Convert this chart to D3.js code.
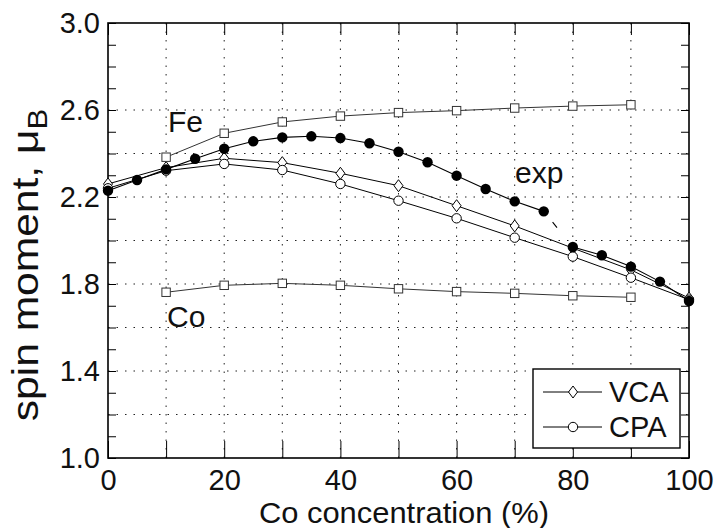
<!doctype html>
<html lang="en">
<head>
  <meta charset="utf-8">
  <title>Spin moment vs Co concentration</title>
  <style>
    body { margin: 0; background: #fff; }
    svg { display: block; font-family: "Liberation Sans", Arial, sans-serif; }
    .grid line { stroke: #222; stroke-width: 1; stroke-dasharray: 1.5,7; }
    .axis path { display: none; }
    .axis line { stroke: #000; stroke-width: 1; }
    .axis text { font-size: 29px; fill: #111; }
  </style>
</head>
<body>
  <div id="chart"></div>
  <script src="https://cdn.jsdelivr.net/npm/d3@7"></script>
  <script>
  // values
  var concCalc = [10, 20, 30, 40, 50, 60, 70, 80, 90];
  var fe = [2.383, 2.493, 2.545, 2.572, 2.588, 2.597, 2.609, 2.618, 2.624];
  var co = [1.762, 1.794, 1.803, 1.794, 1.778, 1.765, 1.757, 1.746, 1.739];

  var concTheory = [0, 10, 20, 30, 40, 50, 60, 70, 80, 90, 100];
  var vca = [2.26, 2.335, 2.378, 2.358, 2.309, 2.252, 2.160, 2.067, 1.965, 1.865, 1.735];
  var cpa = [2.24, 2.321, 2.352, 2.324, 2.260, 2.183, 2.102, 2.013, 1.926, 1.829, 1.728];

  var concExp = [0, 5, 10, 15, 20, 25, 30, 35, 40, 45, 50, 55, 60, 65, 70, 75, 80, 85, 90, 95, 100];
  var expVals = [2.229, 2.278, 2.327, 2.376, 2.422, 2.456, 2.474, 2.479, 2.471, 2.447, 2.408,
                 2.360, 2.298, 2.237, 2.180, 2.134, 1.970, 1.932, 1.880, 1.811, 1.722];

  var xTicks = [0, 20, 40, 60, 80, 100];
  var yTicks = [1.0, 1.4, 1.8, 2.2, 2.6, 3.0];

  (function(){
    var width = 717, height = 528;
    // plot box (note: "top" is reserved on window, so use mTop)
    var mLeft = 108, mRight = 689, mTop = 23, mBottom = 458;

    var x = d3.scaleLinear().domain([0, 100]).range([mLeft, mRight]);
    var y = d3.scaleLinear().domain([1, 3]).range([mBottom, mTop]);

    var svg = d3.select("#chart").append("svg")
        .attr("width", width)
        .attr("height", height);

    // dotted grid
    var grid = svg.append("g").attr("class", "grid");
    grid.selectAll(".gx").data(d3.range(10, 100, 10)).enter().append("line")
        .attr("x1", d => x(d)).attr("x2", d => x(d))
        .attr("y1", mTop).attr("y2", mBottom);
    grid.selectAll(".gy").data(d3.range(1, 9).map(i => 1 + i * 0.2)).enter().append("line")
        .attr("y1", d => y(d)).attr("y2", d => y(d))
        .attr("x1", mLeft).attr("x2", mRight);

    // ticks pointing inwards, labels only on some of them
    var xMinor = d3.range(0, 101, 10);
    var yMinor = d3.range(0, 21).map(i => 1 + i * 0.1);
    var fmtX = d => xTicks.indexOf(d) >= 0 ? d : "";
    var fmtY = d => yTicks.some(t => Math.abs(t - d) < 1e-6) ? d.toFixed(1) : "";

    svg.append("g").attr("class", "axis")
        .attr("transform", "translate(0," + mBottom + ")")
        .call(d3.axisBottom(x).tickValues(xMinor).tickSizeInner(-17).tickSizeOuter(0)
          .tickPadding(11).tickFormat(fmtX));
    svg.append("g").attr("class", "axis")
        .attr("transform", "translate(0," + mTop + ")")
        .call(d3.axisTop(x).tickValues(xMinor).tickSizeInner(-12).tickSizeOuter(0).tickFormat(""));
    svg.append("g").attr("class", "axis")
        .attr("transform", "translate(" + mLeft + ",0)")
        .call(d3.axisLeft(y).tickValues(yMinor).tickSizeInner(-8).tickSizeOuter(0)
          .tickPadding(8).tickFormat(fmtY));
    svg.append("g").attr("class", "axis")
        .attr("transform", "translate(" + mRight + ",0)")
        .call(d3.axisRight(y).tickValues(yMinor).tickSizeInner(-8).tickSizeOuter(0).tickFormat(""));

    // frame
    svg.append("rect")
        .attr("x", mLeft).attr("y", mTop)
        .attr("width", mRight - mLeft).attr("height", mBottom - mTop)
        .attr("fill", "none").attr("stroke", "#000").attr("stroke-width", 1.6);

    var line = d3.line().x(d => x(d[0])).y(d => y(d[1]));
    var zip = (a, b) => a.map((v, i) => [v, b[i]]);

    var feData = zip(concCalc, fe), coData = zip(concCalc, co);
    var vcaData = zip(concTheory, vca), cpaData = zip(concTheory, cpa);
    var expData = zip(concExp, expVals);

    // lines
    [feData, coData].forEach(function(dd) {
      svg.append("path").attr("d", line(dd))
        .attr("fill", "none").attr("stroke", "#333").attr("stroke-width", 1);
    });
    [vcaData, cpaData].forEach(function(dd) {
      svg.append("path").attr("d", line(dd))
        .attr("fill", "none").attr("stroke", "#000").attr("stroke-width", 1);
    });
    // experiment: solid, with a broken piece between 75 and 80
    svg.append("path").attr("d", line(expData.slice(0, 16)))
        .attr("fill", "none").attr("stroke", "#000").attr("stroke-width", 1.1);
    svg.append("path").attr("d", line(expData.slice(15, 17)))
        .attr("fill", "none").attr("stroke", "#000").attr("stroke-width", 1.1)
        .attr("stroke-dasharray", "0,14,7,40");
    svg.append("path").attr("d", line(expData.slice(16)))
        .attr("fill", "none").attr("stroke", "#000").attr("stroke-width", 1.1);

    // markers
    var diamond = "M0,-6L4.5,0L0,6L-4.5,0Z";
    svg.append("g").selectAll("path").data(vcaData).enter().append("path")
        .attr("d", diamond)
        .attr("transform", d => "translate(" + x(d[0]) + "," + y(d[1]) + ")")
        .attr("fill", "#fff").attr("stroke", "#000").attr("stroke-width", 1);
    svg.append("g").selectAll("circle").data(cpaData).enter().append("circle")
        .attr("cx", d => x(d[0])).attr("cy", d => y(d[1])).attr("r", 4.7)
        .attr("fill", "#fff").attr("stroke", "#000").attr("stroke-width", 1);
    [feData, coData].forEach(function(dd) {
      svg.append("g").selectAll("rect").data(dd).enter().append("rect")
        .attr("x", d => x(d[0]) - 4.2).attr("y", d => y(d[1]) - 4.2)
        .attr("width", 8.4).attr("height", 8.4)
        .attr("fill", "#fff").attr("stroke", "#333").attr("stroke-width", 1);
    });
    svg.append("g").selectAll("circle").data(expData).enter().append("circle")
        .attr("cx", d => x(d[0])).attr("cy", d => y(d[1])).attr("r", 5.2)
        .attr("fill", "#000");

    // in-plot labels
    var lab = [["Fe", 168, 132], ["exp", 515, 183], ["Co", 167, 327]];
    svg.selectAll(".lab").data(lab).enter().append("text")
        .attr("x", d => d[1]).attr("y", d => d[2])
        .attr("font-size", 30).attr("fill", "#111")
        .text(d => d[0]);

    // legend
    var lg = svg.append("g");
    lg.append("rect").attr("x", 533).attr("y", 369).attr("width", 147).attr("height", 79)
        .attr("fill", "#fff").attr("stroke", "#000").attr("stroke-width", 1.4);
    var legendRows = [["VCA", 392], ["CPA", 427]];
    legendRows.forEach(function(r, i) {
      lg.append("line").attr("x1", 543).attr("x2", 602).attr("y1", r[1]).attr("y2", r[1])
        .attr("stroke", "#000").attr("stroke-width", 1);
      if (i === 0) {
        lg.append("path").attr("d", diamond).attr("transform", "translate(573," + r[1] + ")")
          .attr("fill", "#fff").attr("stroke", "#000");
      } else {
        lg.append("circle").attr("cx", 573).attr("cy", r[1]).attr("r", 4.7)
          .attr("fill", "#fff").attr("stroke", "#000");
      }
      lg.append("text").attr("x", 609).attr("y", r[1] + 10).attr("font-size", 29)
        .attr("fill", "#111").text(r[0]);
    });

    // axis titles
    svg.append("text").attr("x", 404).attr("y", 523)
        .attr("text-anchor", "middle").attr("font-size", 30).attr("fill", "#111")
        .attr("transform", "translate(404,523) scale(1.03,1) translate(-404,-523)")
        .text("Co concentration (%)");
    // the y title in the picture is drawn a bit longer than its glyph height suggests
    var yt = svg.append("text")
        .attr("transform", "translate(38,265) rotate(-90) scale(1.15,1)")
        .attr("text-anchor", "middle").attr("font-size", 37).attr("fill", "#111");
    yt.append("tspan").text("spin moment, \u03bc");
    yt.append("tspan").attr("font-size", 27).attr("dy", 9).text("B");
  })();
  </script>
</body>
</html>
